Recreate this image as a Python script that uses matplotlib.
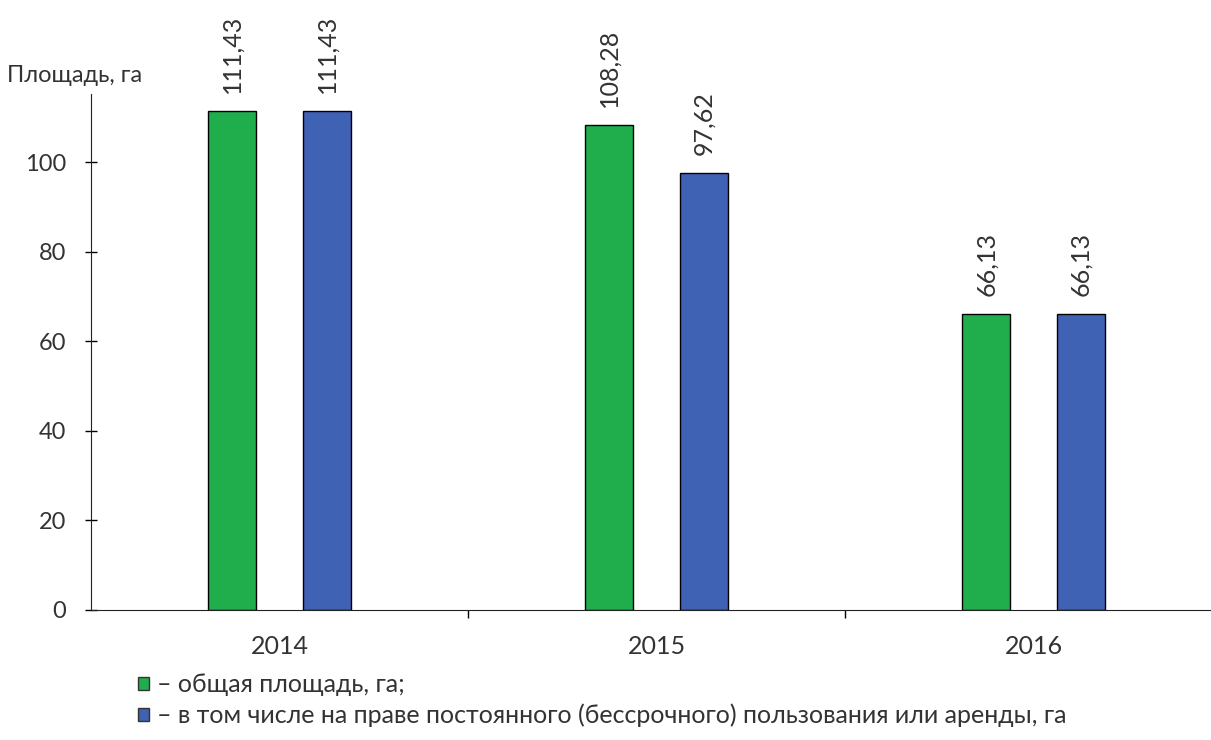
import numpy as np
import matplotlib
matplotlib.use('Agg')
import matplotlib.pyplot as plt
from matplotlib.patches import Patch

plt.rcParams['font.family'] = ['Lato', 'DejaVu Sans']

# land area by year, ha
years = ['2014', '2015', '2016']
total_area = [111.43, 108.28, 66.13]
leased_area = [111.43, 97.62, 66.13]
legend_labels = ['– общая площадь, га;',
                 '– в том числе на праве постоянного (бессрочного) пользования или аренды, га']

GREEN = '#1fae4b'
BLUE = '#3f62b5'
TEXT = '#333333'

fig = plt.figure(figsize=(12.11, 7.40), dpi=100)
ax = fig.add_axes([0.0751, 0.1757, 0.934, 0.6973])

x = np.arange(len(years))
w = 0.127
b1 = ax.bar(x - 0.125, total_area, w, color=GREEN, edgecolor='black', linewidth=1)
b2 = ax.bar(x + 0.125, leased_area, w, color=BLUE, edgecolor='black', linewidth=1)

for bars, vals in ((b1, total_area), (b2, leased_area)):
    ax.bar_label(bars, labels=[f'{v:.2f}'.replace('.', ',') for v in vals],
                 rotation=90, padding=13, fontsize=18, color=TEXT, clip_on=False)

ax.set_xlim(-0.5, 2.5)
ax.set_ylim(0, 115.2)
ax.set_yticks([0, 20, 40, 60, 80, 100])
ax.tick_params(axis='y', labelsize=17, labelcolor=TEXT, direction='inout',
               length=8, width=1, pad=14)

# category ticks sit between the groups, labels go in the middle
ax.set_xticks([0.5, 1.5], minor=False)
ax.set_xticklabels([])
ax.set_xticks(x, minor=True)
ax.set_xticklabels(years, minor=True)
ax.tick_params(axis='x', which='major', direction='out', length=6, width=1)
ax.tick_params(axis='x', which='minor', length=0, labelsize=18, labelcolor=TEXT, pad=18)

for s in ('top', 'right'):
    ax.spines[s].set_visible(False)
ax.spines['left'].set_color('#222222')
ax.spines['bottom'].set_color('#222222')

fig.text(0.006, 0.898, 'Площадь, га', fontsize=17, color=TEXT, ha='left', va='center')

handles = [Patch(facecolor=GREEN, edgecolor='#333333'),
           Patch(facecolor=BLUE, edgecolor='#333333')]
fig.legend(handles, legend_labels, loc='upper left', bbox_to_anchor=(0.114, 0.090),
           frameon=False, fontsize=18, handlelength=0.45, handleheight=0.45,
           handletextpad=0.3, labelspacing=0.3, labelcolor=TEXT,
           borderpad=0, borderaxespad=0)

fig.savefig('out.png', dpi=100)
